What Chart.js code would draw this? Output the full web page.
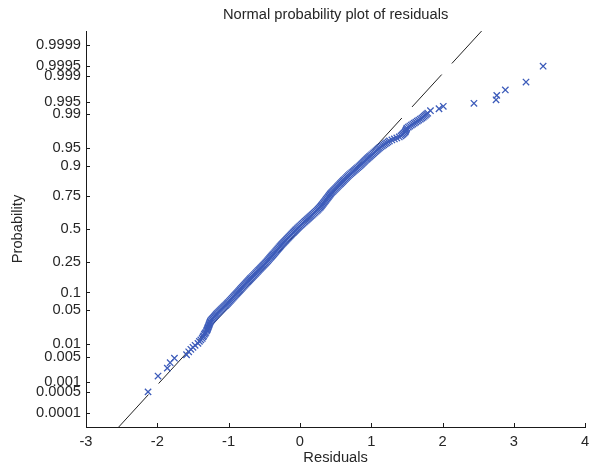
<!DOCTYPE html>
<html>
<head>
<meta charset="utf-8">
<title>Normal probability plot of residuals</title>
<script src="https://cdn.jsdelivr.net/npm/chart.js@4.4.1/dist/chart.umd.min.js"></script>
<style>
  html, body { margin: 0; padding: 0; background: #ffffff; }
  canvas { display: block; }
</style>
</head>
<body>
<canvas id="normplot" width="591" height="469"></canvas>
<script>
// Sorted residuals and the standard-normal quantile of each one's plotting position
const residuals = [
  // lower tail
  -2.13, -1.99, -1.86, -1.82, -1.76, -1.59, -1.56, -1.53, -1.50, -1.47,
  -1.43, -1.41, -1.39, -1.37, -1.36, -1.35, -1.34, -1.33, -1.32, -1.31,
  // body
  -1.303, -1.297, -1.292, -1.287, -1.281, -1.276, -1.271, -1.266, -1.260, -1.255,
  -1.243, -1.231, -1.219, -1.206, -1.194, -1.182, -1.170, -1.156, -1.141, -1.127,
  -1.113, -1.099, -1.084, -1.070, -1.056, -1.041, -1.027, -1.014, -1.001, -0.988,
  -0.975, -0.962, -0.949, -0.936, -0.924, -0.911, -0.898, -0.885, -0.872, -0.859,
  -0.846, -0.834, -0.821, -0.808, -0.795, -0.782, -0.769, -0.756, -0.744, -0.731,
  -0.718, -0.705, -0.692, -0.678, -0.665, -0.651, -0.638, -0.624, -0.611, -0.597,
  -0.584, -0.571, -0.557, -0.544, -0.530, -0.517, -0.504, -0.490, -0.477, -0.464,
  -0.452, -0.440, -0.428, -0.416, -0.404, -0.392, -0.380, -0.368, -0.356, -0.344,
  -0.332, -0.320, -0.308, -0.296, -0.284, -0.272, -0.260, -0.247, -0.233, -0.220,
  -0.206, -0.193, -0.180, -0.166, -0.153, -0.139, -0.126, -0.113, -0.099, -0.086,
  -0.072, -0.059, -0.045, -0.032, -0.017, -0.002, 0.014, 0.029, 0.044, 0.060,
  0.075, 0.091, 0.106, 0.122, 0.137, 0.152, 0.168, 0.183, 0.199, 0.214,
  0.230, 0.245, 0.258, 0.271, 0.284, 0.295, 0.306, 0.317, 0.328, 0.338,
  0.349, 0.360, 0.370, 0.381, 0.392, 0.402, 0.413, 0.424, 0.434, 0.447,
  0.461, 0.474, 0.488, 0.502, 0.516, 0.529, 0.543, 0.557, 0.570, 0.584,
  0.598, 0.611, 0.625, 0.639, 0.653, 0.666, 0.680, 0.696, 0.712, 0.729,
  0.745, 0.761, 0.777, 0.793, 0.809, 0.826, 0.842, 0.857, 0.871, 0.886,
  0.900, 0.914, 0.929, 0.943, 0.958, 0.974, 0.989, 1.005, 1.021, 1.036,
  1.052, 1.068, 1.084, 1.099, 1.115, 1.135, 1.155, 1.175, 1.195, 1.215,
  1.235, 1.255, 1.289, 1.324, 1.358, 1.393, 1.417, 1.432, 1.446, 1.461,
  1.475, 1.481, 1.487, 1.494, 1.500, 1.520, 1.541, 1.562, 1.583, 1.604,
  1.625, 1.646, 1.667, 1.689, 1.710, 1.728, 1.744, 1.760, 1.776, 1.792,
  // upper tail
  1.83, 1.95, 2.01, 2.44, 2.75, 2.76, 2.88, 3.17, 3.41
];
const normalScores = [
  // lower tail
  -3.29, -2.97, -2.81, -2.70, -2.61, -2.54, -2.48, -2.43, -2.39, -2.35,
  -2.31, -2.27, -2.24, -2.21, -2.18, -2.16, -2.13, -2.11, -2.09, -2.06,
  // body
  -2.04, -2.02, -2.00, -1.98, -1.96, -1.94, -1.92, -1.90, -1.88, -1.86,
  -1.84, -1.82, -1.80, -1.78, -1.76, -1.74, -1.72, -1.70, -1.68, -1.66,
  -1.64, -1.62, -1.60, -1.58, -1.56, -1.54, -1.52, -1.50, -1.48, -1.46,
  -1.44, -1.42, -1.40, -1.38, -1.36, -1.34, -1.32, -1.30, -1.28, -1.26,
  -1.24, -1.22, -1.20, -1.18, -1.16, -1.14, -1.12, -1.10, -1.08, -1.06,
  -1.04, -1.02, -1.00, -0.98, -0.96, -0.94, -0.92, -0.90, -0.88, -0.86,
  -0.84, -0.82, -0.80, -0.78, -0.76, -0.74, -0.72, -0.70, -0.68, -0.66,
  -0.64, -0.62, -0.60, -0.58, -0.56, -0.54, -0.52, -0.50, -0.48, -0.46,
  -0.44, -0.42, -0.40, -0.38, -0.36, -0.34, -0.32, -0.30, -0.28, -0.26,
  -0.24, -0.22, -0.20, -0.18, -0.16, -0.14, -0.12, -0.10, -0.08, -0.06,
  -0.04, -0.02, 0.00, 0.02, 0.04, 0.06, 0.08, 0.10, 0.12, 0.14,
  0.16, 0.18, 0.20, 0.22, 0.24, 0.26, 0.28, 0.30, 0.32, 0.34,
  0.36, 0.38, 0.40, 0.42, 0.44, 0.46, 0.48, 0.50, 0.52, 0.54,
  0.56, 0.58, 0.60, 0.62, 0.64, 0.66, 0.68, 0.70, 0.72, 0.74,
  0.76, 0.78, 0.80, 0.82, 0.84, 0.86, 0.88, 0.90, 0.92, 0.94,
  0.96, 0.98, 1.00, 1.02, 1.04, 1.06, 1.08, 1.10, 1.12, 1.14,
  1.16, 1.18, 1.20, 1.22, 1.24, 1.26, 1.28, 1.30, 1.32, 1.34,
  1.36, 1.38, 1.40, 1.42, 1.44, 1.46, 1.48, 1.50, 1.52, 1.54,
  1.56, 1.58, 1.60, 1.62, 1.64, 1.66, 1.68, 1.70, 1.72, 1.74,
  1.76, 1.78, 1.80, 1.82, 1.84, 1.86, 1.88, 1.90, 1.92, 1.94,
  1.96, 1.98, 2.00, 2.02, 2.04, 2.06, 2.08, 2.10, 2.12, 2.14,
  2.16, 2.18, 2.20, 2.22, 2.24, 2.26, 2.28, 2.30, 2.32, 2.34,
  // upper tail
  2.39, 2.43, 2.48, 2.54, 2.61, 2.70, 2.81, 2.97, 3.29
];

// Probability marks on the vertical axis and the text shown for them
const probabilityTicks = [0.0001, 0.0005, 0.001, 0.005, 0.01, 0.05, 0.1, 0.25, 0.5,
                          0.75, 0.9, 0.95, 0.99, 0.995, 0.999, 0.9995, 0.9999];
const probabilityLabels = ['0.0001', '0.0005', '0.001', '0.005', '0.01', '0.05', '0.1', '0.25', '0.5',
                           '0.75', '0.9', '0.95', '0.99', '0.995', '0.999', '0.9995', '0.9999'];
const residualTicks = [-3, -2, -1, 0, 1, 2, 3, 4];

// Normal reference line: residual = fitMean + fitStd * z
const fitMean = 0.003;
const fitStd = 0.636;
const scoreRange = [-4, 4];

// Inverse of the standard normal CDF (Acklam's rational approximation)
function probit(p) {
  const a = [-3.969683028665376e+01, 2.209460984245205e+02, -2.759285104469687e+02,
             1.383577518672690e+02, -3.066479806614716e+01, 2.506628277459239e+00];
  const b = [-5.447609879822406e+01, 1.615858368580409e+02, -1.556989798598866e+02,
             6.680131188771972e+01, -1.328068155288572e+01];
  const c = [-7.784894002430293e-03, -3.223964580411365e-01, -2.400758277161838e+00,
             -2.549732539343734e+00, 4.374664141464968e+00, 2.938163982698783e+00];
  const d = [7.784695709041462e-03, 3.224671290700398e-01, 2.445134137142996e+00,
             3.754408661907416e+00];
  const lo = 0.02425, hi = 1 - lo;
  if (p < lo) {
    const q = Math.sqrt(-2 * Math.log(p));
    return (((((c[0]*q + c[1])*q + c[2])*q + c[3])*q + c[4])*q + c[5]) /
           ((((d[0]*q + d[1])*q + d[2])*q + d[3])*q + 1);
  }
  if (p > hi) {
    const q = Math.sqrt(-2 * Math.log(1 - p));
    return -(((((c[0]*q + c[1])*q + c[2])*q + c[3])*q + c[4])*q + c[5]) /
            ((((d[0]*q + d[1])*q + d[2])*q + d[3])*q + 1);
  }
  const q = p - 0.5, r = q * q;
  return (((((a[0]*r + a[1])*r + a[2])*r + a[3])*r + a[4])*r + a[5]) * q /
         (((((b[0]*r + b[1])*r + b[2])*r + b[3])*r + b[4])*r + 1);
}

const FONT = { family: "'Liberation Sans', Arial, Helvetica, sans-serif", size: 14.7, weight: 'normal' };
const TEXT_COLOR = '#262626';
const AXIS_COLOR = '#1a1a1a';
const MARKER_COLOR = '#3d5cba';

Chart.defaults.font.family = FONT.family;
Chart.defaults.font.size = FONT.size;
Chart.defaults.color = TEXT_COLOR;

// Tick marks drawn on the inside of the axes
const inwardTicks = {
  id: 'inwardTicks',
  afterDraw(chart, args, opts) {
    const { ctx, chartArea, scales } = chart;
    ctx.save();
    ctx.strokeStyle = opts.color;
    ctx.lineWidth = 1;
    ctx.beginPath();
    scales.x.ticks.forEach((t, i) => {
      const px = Math.round(scales.x.getPixelForTick(i)) + 0.5;
      ctx.moveTo(px, chartArea.bottom);
      ctx.lineTo(px, chartArea.bottom - opts.length);
    });
    scales.y.ticks.forEach((t, i) => {
      const py = Math.round(scales.y.getPixelForTick(i)) + 0.5;
      ctx.moveTo(chartArea.left, py);
      ctx.lineTo(chartArea.left + opts.length, py);
    });
    ctx.stroke();
    ctx.restore();
  }
};

const points = residuals.map((x, i) => ({ x, y: normalScores[i] }));
const lineAt = z => ({ x: fitMean + fitStd * z, y: z });

new Chart(document.getElementById('normplot'), {
  type: 'scatter',
  data: {
    datasets: [
      {
        label: 'residuals',
        data: points,
        pointStyle: 'crossRot',
        pointRadius: 4.5,
        pointBorderWidth: 1.3,
        borderColor: MARKER_COLOR,
        backgroundColor: 'rgba(0,0,0,0)',
        order: 0
      },
      {
        label: 'reference (lower)',
        data: [lineAt(scoreRange[0]), lineAt(0)],
        showLine: true,
        pointRadius: 0,
        borderColor: '#222222',
        borderWidth: 1,
        borderDash: [44, 15],
        order: 1
      },
      {
        label: 'reference (upper)',
        data: [lineAt(scoreRange[1]), lineAt(0)],
        showLine: true,
        pointRadius: 0,
        borderColor: '#222222',
        borderWidth: 1,
        borderDash: [44, 15],
        order: 1
      }
    ]
  },
  options: {
    responsive: false,
    animation: false,
    events: [],
    layout: { padding: { left: 0, right: 1, top: 0, bottom: 0 } },
    plugins: {
      legend: { display: false },
      tooltip: { enabled: false },
      title: {
        display: true,
        text: 'Normal probability plot of residuals',
        fullSize: false,
        color: TEXT_COLOR,
        font: FONT,
        padding: { top: 6.2, bottom: 7.2 }
      },
      inwardTicks: { color: AXIS_COLOR, length: 4 }
    },
    scales: {
      x: {
        type: 'linear',
        min: -3,
        max: 4,
        afterBuildTicks(scale) { scale.ticks = residualTicks.map(v => ({ value: v })); },
        afterFit(scale) { scale.height = 42; scale.paddingLeft = 0; scale.paddingRight = 0; },
        ticks: { autoSkip: false, maxRotation: 0, padding: 6, color: TEXT_COLOR, font: FONT },
        grid: { display: false, drawTicks: false },
        border: { display: true, color: AXIS_COLOR, width: 1 },
        title: { display: true, text: 'Residuals', color: TEXT_COLOR, font: FONT, padding: { top: 0, bottom: 2 } }
      },
      y: {
        type: 'linear',
        min: scoreRange[0],
        max: scoreRange[1],
        afterBuildTicks(scale) { scale.ticks = probabilityTicks.map(p => ({ value: probit(p) })); },
        afterFit(scale) { scale.width = 86; scale.paddingTop = 0; scale.paddingBottom = 0; },
        ticks: {
          autoSkip: false,
          padding: 5,
          color: TEXT_COLOR,
          font: FONT,
          callback: (value, index) => probabilityLabels[index]
        },
        grid: { display: false, drawTicks: false },
        border: { display: true, color: AXIS_COLOR, width: 1 },
        title: { display: true, text: 'Probability', color: TEXT_COLOR, font: FONT, padding: { top: 9.2, bottom: 0 } }
      }
    }
  },
  plugins: [inwardTicks]
});
</script>
</body>
</html>
